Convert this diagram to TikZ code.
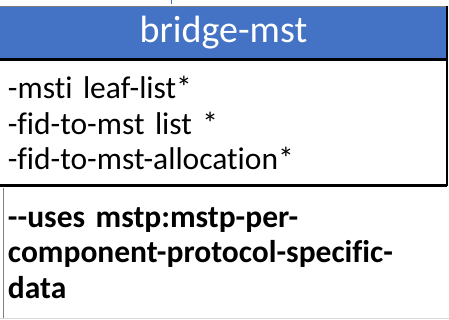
\documentclass[tikz,border=0pt]{standalone}
\usepackage{fontspec}
\setmainfont{Carlito}[Ligatures={CommonOff}, WordSpace=0.75]
\definecolor{hdr}{HTML}{4472C4}
\definecolor{lgray}{HTML}{D9D9D9}
\definecolor{mgray}{HTML}{7F7F7F}
\tikzset{
  box/.style={anchor=north west, inner sep=0pt, outer sep=0pt, minimum width=447pt},
  body/.style={font=\fontsize{31.5}{35.5}\selectfont, align=left, text width=431pt, inner xsep=8pt},
}
\begin{document}
\begin{tikzpicture}[x=1pt,y=-1pt]
\useasboundingbox (0,0) rectangle (449,320);
\fill[white] (0,0) rectangle (449,320);
\coordinate (tickA) at (171,0);
\coordinate (tickB) at (171,4);
\draw[hdr, line width=1pt] (tickA) -- (tickB);
% header
\node[box, fill=hdr, minimum height=54pt, text=white, font=\fontsize{38}{44}\selectfont] (title) at (0,6) {\raisebox{-3.5pt}{bridge-mst}};
\draw[mgray, line width=0.8pt] (title.north west) -- (title.north east);
\draw[black, line width=1.2pt] (title.north east) -- (title.south east);
% attributes
\node[box, minimum height=126pt, body] (attrs) at (0,60) {-msti leaf-list*\\-fid-to-mst list *\\-fid-to-mst-allocation*};
\draw[black, line width=1.5pt] (attrs.north east) -- (attrs.south east);
\draw[black, line width=3pt] (title.south west) -- (title.south east);
\draw[black, line width=3pt] (attrs.south west) -- (attrs.south east);
% uses
\node[box, minimum height=130pt, body, font=\fontsize{31.5}{35.5}\selectfont\bfseries] (uses) at (0,188) {{-}{-}uses mstp:mstp-per-\\component-protocol-specific-\\data};
\draw[mgray, line width=1pt] ([xshift=3pt]uses.north west) -- ([xshift=3pt]uses.south west);
\draw[lgray, line width=1pt] (uses.south west) -- ([xshift=2pt]uses.south east);
\end{tikzpicture}
\end{document}
